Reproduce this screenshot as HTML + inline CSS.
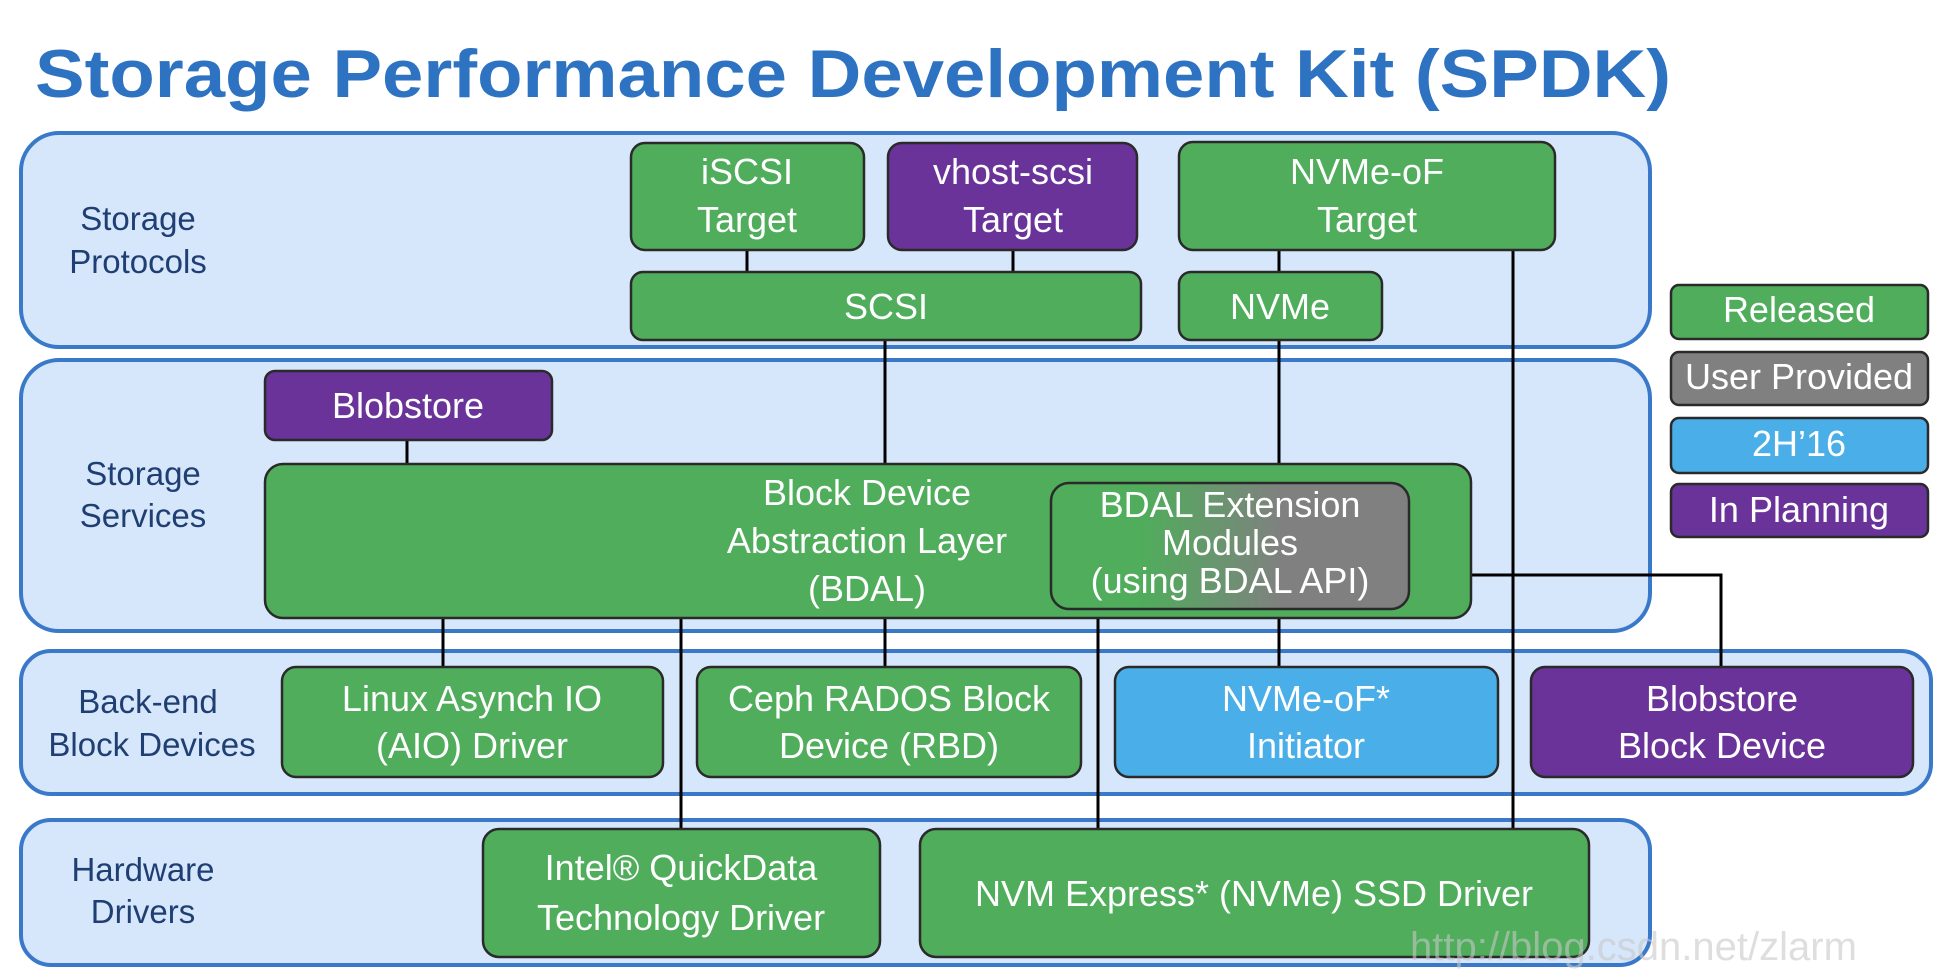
<!DOCTYPE html>
<html><head><meta charset="utf-8"><style>
html,body{margin:0;padding:0;background:#fff;width:1956px;height:974px;overflow:hidden}
svg{display:block}
text{font-family:"Liberation Sans",sans-serif}
.w{fill:#fff;font-size:36px;text-anchor:middle}
.l{fill:#1f3f73;font-size:33px;text-anchor:middle}
.p{fill:#d6e6fb;stroke:#3a78c9;stroke-width:4}
.b{stroke:#2a2a2a;stroke-width:2.5}
.g{fill:#4fad5b}.u{fill:#6a3399}.c{fill:#4aaee9}.k{fill:#808080}
line{stroke:#000;stroke-width:3}
</style></head><body>
<svg width="1956" height="974" viewBox="0 0 1956 974">
<defs><linearGradient id="gr" x1="0" x2="1"><stop offset="0.25" stop-color="#4fad5b"/><stop offset="0.65" stop-color="#808080"/></linearGradient></defs>
<text x="35" y="97" fill="#2e72c2" font-size="68" font-weight="bold" textLength="1636" lengthAdjust="spacingAndGlyphs">Storage Performance Development Kit (SPDK)</text>

<rect class="p" x="21" y="133" width="1629" height="214" rx="38"/>
<rect class="p" x="21" y="360" width="1629" height="271" rx="38"/>
<rect class="p" x="21" y="651" width="1910" height="143" rx="30"/>
<rect class="p" x="21" y="820" width="1629" height="145" rx="30"/>

<text class="l" x="138" y="230">Storage</text><text class="l" x="138" y="273">Protocols</text>
<text class="l" x="143" y="485">Storage</text><text class="l" x="143" y="527">Services</text>
<text class="l" x="148" y="713">Back-end</text><text class="l" x="152" y="756">Block Devices</text>
<text class="l" x="143" y="881">Hardware</text><text class="l" x="143" y="923">Drivers</text>

<!-- lines -->
<line x1="747" y1="250" x2="747" y2="272"/>
<line x1="1013" y1="250" x2="1013" y2="272"/>
<line x1="1279" y1="250" x2="1279" y2="272"/>
<line x1="885" y1="340" x2="885" y2="464"/>
<line x1="1279" y1="340" x2="1279" y2="464"/>
<line x1="1513" y1="250" x2="1513" y2="829"/>
<line x1="407" y1="440" x2="407" y2="464"/>
<line x1="443" y1="618" x2="443" y2="667"/>
<line x1="681" y1="618" x2="681" y2="829"/>
<line x1="885" y1="618" x2="885" y2="667"/>
<line x1="1098" y1="609" x2="1098" y2="829"/>
<line x1="1279" y1="609" x2="1279" y2="667"/>
<polyline points="1471,575 1721,575 1721,667" fill="none" stroke="#000" stroke-width="3"/>

<rect class="b g" x="631" y="143" width="233" height="107" rx="14"/>
<text class="w" x="747" y="184">iSCSI</text><text class="w" x="747" y="232">Target</text>
<rect class="b u" x="888" y="143" width="249" height="107" rx="14"/>
<text class="w" x="1013" y="184">vhost-scsi</text><text class="w" x="1013" y="232">Target</text>
<rect class="b g" x="1179" y="142" width="376" height="108" rx="14"/>
<text class="w" x="1367" y="184">NVMe-oF</text><text class="w" x="1367" y="232">Target</text>
<rect class="b g" x="631" y="272" width="510" height="68" rx="12"/>
<text class="w" x="886" y="319">SCSI</text>
<rect class="b g" x="1179" y="272" width="203" height="68" rx="12"/>
<text class="w" x="1280" y="319">NVMe</text>

<rect class="b g" x="1671" y="285" width="257" height="54" rx="8"/>
<text class="w" x="1799" y="322" font-size="32">Released</text>
<rect class="b k" x="1671" y="352" width="257" height="53" rx="8"/>
<text class="w" x="1799" y="389" font-size="32">User Provided</text>
<rect class="b c" x="1671" y="418" width="257" height="55" rx="8"/>
<text class="w" x="1799" y="456" font-size="32">2H’16</text>
<rect class="b u" x="1671" y="484" width="257" height="53" rx="8"/>
<text class="w" x="1799" y="522" font-size="32">In Planning</text>

<rect class="b u" x="265" y="371" width="287" height="69" rx="10"/>
<text class="w" x="408" y="418">Blobstore</text>
<rect class="b g" x="265" y="464" width="1206" height="154" rx="18"/>
<text class="w" x="867" y="505">Block Device</text>
<text class="w" x="867" y="553">Abstraction Layer</text>
<text class="w" x="867" y="601">(BDAL)</text>
<rect class="b" fill="url(#gr)" x="1051" y="483" width="358" height="126" rx="18"/>
<text class="w" x="1230" y="517" font-size="30">BDAL Extension</text>
<text class="w" x="1230" y="555" font-size="30">Modules</text>
<text class="w" x="1230" y="593" font-size="30">(using BDAL API)</text>

<rect class="b g" x="282" y="667" width="381" height="110" rx="14"/>
<text class="w" x="472" y="711">Linux Asynch IO</text><text class="w" x="472" y="758">(AIO) Driver</text>
<rect class="b g" x="697" y="667" width="384" height="110" rx="14"/>
<text class="w" x="889" y="711">Ceph RADOS Block</text><text class="w" x="889" y="758">Device (RBD)</text>
<rect class="b c" x="1115" y="667" width="383" height="110" rx="14"/>
<text class="w" x="1306" y="711">NVMe-oF*</text><text class="w" x="1306" y="758">Initiator</text>
<rect class="b u" x="1531" y="667" width="382" height="110" rx="14"/>
<text class="w" x="1722" y="711">Blobstore</text><text class="w" x="1722" y="758">Block Device</text>

<rect class="b g" x="483" y="829" width="397" height="128" rx="16"/>
<text class="w" x="681" y="880">Intel® QuickData</text><text class="w" x="681" y="930">Technology Driver</text>
<rect class="b g" x="920" y="829" width="669" height="128" rx="16"/>
<text class="w" x="1254" y="906">NVM Express* (NVMe) SSD Driver</text>
<text x="1410" y="960" fill="#c8c8c8" fill-opacity="0.6" font-size="40" font-family="Liberation Serif">http://blog.csdn.net/zlarm</text>
</svg>
</body></html>
